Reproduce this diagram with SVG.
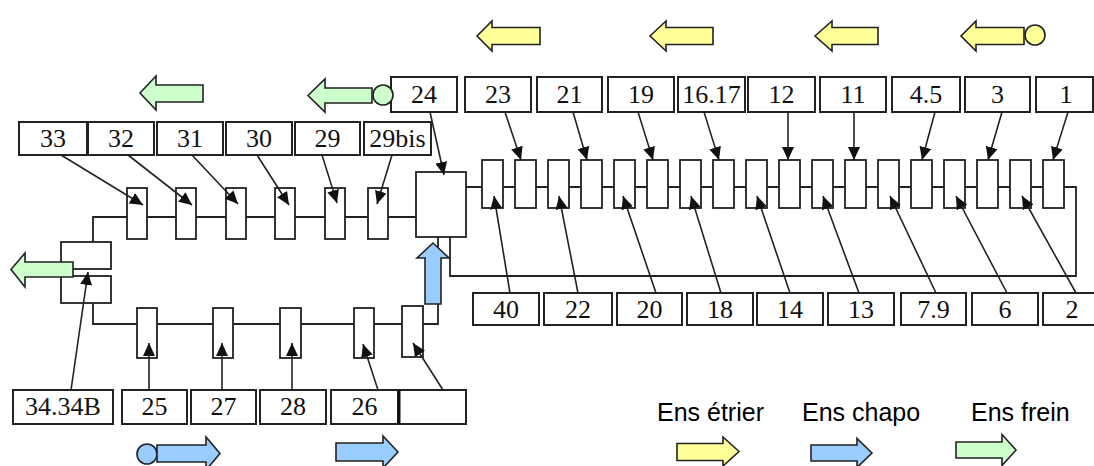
<svg xmlns="http://www.w3.org/2000/svg" width="1094" height="466" viewBox="0 0 1094 466">
<style>
.bx{fill:#fff;stroke:#222;stroke-width:2}
.cp{fill:#fff;stroke:#222;stroke-width:1.8}
.wire{fill:none;stroke:#222;stroke-width:1.8}
.con{fill:none;stroke:#222;stroke-width:1.6;marker-end:url(#ah)}
.lb{font-family:"Liberation Serif","Times New Roman",serif;font-size:26px;fill:#111;text-anchor:middle}
.lg{font-family:"Liberation Sans",Arial,sans-serif;font-size:25px;fill:#000}
.ye{fill:#ffff99;stroke:#222;stroke-width:1.6}
.bl{fill:#99ccff;stroke:#222;stroke-width:1.6}
.gr{fill:#ccffcc;stroke:#222;stroke-width:1.6}
</style>
<defs>
<marker id="ah" markerUnits="userSpaceOnUse" markerWidth="14" markerHeight="12" refX="13" refY="6" orient="auto">
<path d="M0,0 L13,6 L0,12 z" fill="#111"/>
</marker>
</defs>

<!-- wiring -->
<g id="wires">
<polyline class="wire" points="93,242 93,217 416,217"/>
<polyline class="wire" points="93,303 93,324 438,324 438,237"/>
<polyline class="wire" points="466,187 1076,187 1076,276 450,276 450,237"/>
</g>

<!-- components -->
<g id="components">
<g id="c-top-left">
<rect class="cp" x="127" y="188" width="20" height="51"/>
<rect class="cp" x="176" y="188" width="20" height="51"/>
<rect class="cp" x="226" y="188" width="20" height="51"/>
<rect class="cp" x="275" y="188" width="20" height="51"/>
<rect class="cp" x="325" y="188" width="20" height="51"/>
<rect class="cp" x="368" y="188" width="20" height="51"/>
</g>
<g id="c-big"><rect class="cp" x="416" y="172" width="50" height="65"/></g>
<g id="c-right">
<rect class="cp" x="482" y="160" width="21" height="48"/>
<rect class="cp" x="515" y="160" width="21" height="48"/>
<rect class="cp" x="548" y="160" width="21" height="48"/>
<rect class="cp" x="581" y="160" width="21" height="48"/>
<rect class="cp" x="614" y="160" width="21" height="48"/>
<rect class="cp" x="647" y="160" width="21" height="48"/>
<rect class="cp" x="680" y="160" width="21" height="48"/>
<rect class="cp" x="713" y="160" width="21" height="48"/>
<rect class="cp" x="746" y="160" width="21" height="48"/>
<rect class="cp" x="779" y="160" width="21" height="48"/>
<rect class="cp" x="812" y="160" width="21" height="48"/>
<rect class="cp" x="845" y="160" width="21" height="48"/>
<rect class="cp" x="878" y="160" width="21" height="48"/>
<rect class="cp" x="911" y="160" width="21" height="48"/>
<rect class="cp" x="944" y="160" width="21" height="48"/>
<rect class="cp" x="977" y="160" width="21" height="48"/>
<rect class="cp" x="1010" y="160" width="21" height="48"/>
<rect class="cp" x="1043" y="160" width="21" height="48"/>
</g>
<g id="c-stack">
<rect class="cp" x="61" y="242" width="50" height="27"/>
<rect class="cp" x="61" y="276" width="50" height="27"/>
</g>
<g id="c-bottom">
<rect class="cp" x="137" y="308" width="20" height="50"/>
<rect class="cp" x="213" y="308" width="20" height="50"/>
<rect class="cp" x="280" y="308" width="21" height="50"/>
<rect class="cp" x="354" y="308" width="20" height="50"/>
<rect class="cp" x="402" y="306" width="21" height="51"/>
</g>
</g>

<!-- label nodes -->
<g id="n33"><rect class="bx" x="19" y="122" width="68" height="33"/><text class="lb" x="53" y="147">33</text></g>
<g id="n32"><rect class="bx" x="88" y="122" width="66" height="33"/><text class="lb" x="121" y="147">32</text></g>
<g id="n31"><rect class="bx" x="157" y="122" width="66" height="33"/><text class="lb" x="190" y="147">31</text></g>
<g id="n30"><rect class="bx" x="226" y="122" width="66" height="33"/><text class="lb" x="259" y="147">30</text></g>
<g id="n29"><rect class="bx" x="295" y="122" width="65" height="33"/><text class="lb" x="327.5" y="147">29</text></g>
<g id="n29bis"><rect class="bx" x="364" y="122" width="67" height="33"/><text class="lb" x="397.5" y="147">29bis</text></g>

<g id="n24"><rect class="bx" x="391" y="77" width="66" height="35"/><text class="lb" x="424" y="103">24</text></g>
<g id="n23"><rect class="bx" x="465" y="77" width="66" height="35"/><text class="lb" x="498" y="103">23</text></g>
<g id="n21"><rect class="bx" x="537" y="77" width="65" height="35"/><text class="lb" x="569.5" y="103">21</text></g>
<g id="n19"><rect class="bx" x="608" y="77" width="66" height="35"/><text class="lb" x="641" y="103">19</text></g>
<g id="n16-17"><rect class="bx" x="678" y="77" width="67" height="35"/><text class="lb" x="711.5" y="103">16.17</text></g>
<g id="n12"><rect class="bx" x="748" y="77" width="67" height="35"/><text class="lb" x="781.5" y="103">12</text></g>
<g id="n11"><rect class="bx" x="820" y="77" width="66" height="35"/><text class="lb" x="853" y="103">11</text></g>
<g id="n4-5"><rect class="bx" x="892" y="77" width="68" height="35"/><text class="lb" x="926" y="103">4.5</text></g>
<g id="n3"><rect class="bx" x="965" y="77" width="65" height="35"/><text class="lb" x="997.5" y="103">3</text></g>
<g id="n1"><rect class="bx" x="1036" y="77" width="57" height="35"/><text class="lb" x="1066" y="103">1</text></g>

<g id="n40"><rect class="bx" x="473" y="293" width="66" height="32"/><text class="lb" x="506" y="318">40</text></g>
<g id="n22"><rect class="bx" x="544" y="293" width="68" height="32"/><text class="lb" x="578" y="318">22</text></g>
<g id="n20"><rect class="bx" x="617" y="293" width="65" height="32"/><text class="lb" x="649.5" y="318">20</text></g>
<g id="n18"><rect class="bx" x="687" y="293" width="66" height="32"/><text class="lb" x="720" y="318">18</text></g>
<g id="n14"><rect class="bx" x="757" y="293" width="66" height="32"/><text class="lb" x="790" y="318">14</text></g>
<g id="n13"><rect class="bx" x="828" y="293" width="66" height="32"/><text class="lb" x="861" y="318">13</text></g>
<g id="n7-9"><rect class="bx" x="901" y="293" width="65" height="32"/><text class="lb" x="933.5" y="318">7.9</text></g>
<g id="n6"><rect class="bx" x="972" y="293" width="66" height="32"/><text class="lb" x="1005" y="318">6</text></g>
<g id="n2"><rect class="bx" x="1043" y="293" width="60" height="32"/><text class="lb" x="1072" y="318">2</text></g>

<g id="n34-34B"><rect class="bx" x="13" y="390" width="100" height="34"/><text class="lb" x="63" y="415">34.34B</text></g>
<g id="n25"><rect class="bx" x="122" y="390" width="65" height="34"/><text class="lb" x="154.5" y="415">25</text></g>
<g id="n27"><rect class="bx" x="191" y="390" width="65" height="34"/><text class="lb" x="223.5" y="415">27</text></g>
<g id="n28"><rect class="bx" x="260" y="390" width="66" height="34"/><text class="lb" x="293" y="415">28</text></g>
<g id="n26"><rect class="bx" x="331" y="390" width="67" height="34"/><text class="lb" x="364.5" y="415">26</text></g>
<g id="n-blank"><rect class="bx" x="399" y="390" width="67" height="34" style="stroke-width:2"/><line x1="399" y1="390" x2="399" y2="424" stroke="#111" stroke-width="3"/></g>

<!-- connectors -->
<g id="connectors">
<line class="con" x1="61" y1="155" x2="143" y2="205"/>
<line class="con" x1="128" y1="155" x2="192" y2="205"/>
<line class="con" x1="192" y1="155" x2="238" y2="204"/>
<line class="con" x1="257" y1="155" x2="289" y2="205"/>
<line class="con" x1="322" y1="155" x2="337" y2="203"/>
<line class="con" x1="392" y1="155" x2="377" y2="204"/>
<line class="con" x1="430" y1="112" x2="444" y2="175"/>

<line class="con" x1="505" y1="112" x2="521" y2="160"/>
<line class="con" x1="573" y1="112" x2="587" y2="160"/>
<line class="con" x1="638" y1="112" x2="653" y2="160"/>
<line class="con" x1="704" y1="112" x2="719" y2="160"/>
<line class="con" x1="788" y1="112" x2="788" y2="160"/>
<line class="con" x1="854" y1="112" x2="854" y2="160"/>
<line class="con" x1="935" y1="112" x2="922" y2="160"/>
<line class="con" x1="1002" y1="112" x2="988" y2="160"/>
<line class="con" x1="1068" y1="112" x2="1053" y2="160"/>

<line class="con" x1="510" y1="293" x2="494" y2="196"/>
<line class="con" x1="578" y1="293" x2="559" y2="196"/>
<line class="con" x1="656" y1="293" x2="623" y2="196"/>
<line class="con" x1="721" y1="293" x2="691" y2="196"/>
<line class="con" x1="790" y1="293" x2="757" y2="196"/>
<line class="con" x1="859" y1="293" x2="823" y2="196"/>
<line class="con" x1="936" y1="293" x2="890" y2="196"/>
<line class="con" x1="1007" y1="293" x2="956" y2="196"/>
<line class="con" x1="1076" y1="293" x2="1022" y2="196"/>

<line class="con" x1="71" y1="390" x2="88" y2="272"/>
<line class="con" x1="149" y1="390" x2="149" y2="343"/>
<line class="con" x1="222" y1="390" x2="222" y2="343"/>
<line class="con" x1="292" y1="390" x2="292" y2="343"/>
<line class="con" x1="378" y1="390" x2="363" y2="344"/>
<line class="con" x1="443" y1="390" x2="413" y2="343"/>
</g>

<!-- flow arrows -->
<g id="flow-arrows">
<polygon class="ye" points="477,36 492,21 492,27.5 540,27.5 540,44.5 492,44.5 492,51"/>
<polygon class="ye" points="650,36 666,21 666,27.5 713,27.5 713,44.5 666,44.5 666,51"/>
<polygon class="ye" points="815,36 832,21 832,27.5 878,27.5 878,44.5 832,44.5 832,51"/>
<polygon class="ye" points="961,36 976,21 976,27.5 1024,27.5 1024,44.5 976,44.5 976,51"/>
<circle class="ye" cx="1035" cy="35" r="10"/>

<polygon class="gr" points="140,93 156,76 156,85 203,85 203,102 156,102 156,110"/>
<polygon class="gr" points="308,95.5 325,79 325,88 372,88 372,103 325,103 325,112"/>
<circle class="gr" cx="383" cy="95" r="10"/>
<polygon class="gr" points="11,269.5 25,253 25,262 73,262 73,277 25,277 25,287"/>

<polygon class="bl" points="433,243 449,258 441,258 441,304 425,304 425,258 417,258"/>
<circle class="bl" cx="147" cy="454" r="10"/>
<polygon class="bl" points="220,453.5 206,437 206,445 157,445 157,462 206,462 206,470"/>
<polygon class="bl" points="398,452 383,436 383,443 336,443 336,461 383,461 383,468"/>
</g>

<!-- legend -->
<g id="legend">
<text class="lg" x="657" y="421">Ens étrier</text>
<text class="lg" x="802" y="421">Ens chapo</text>
<text class="lg" x="971" y="421">Ens frein</text>
<polygon class="ye" points="739,451.5 723,437 723,443.5 677,443.5 677,460.5 723,460.5 723,466"/>
<polygon class="bl" points="872,453 857,438.5 857,445 811,445 811,461 857,461 857,467.5"/>
<polygon class="gr" points="1016,450 1002,434.5 1002,442 956,442 956,458 1002,458 1002,465.5"/>
</g>
</svg>
